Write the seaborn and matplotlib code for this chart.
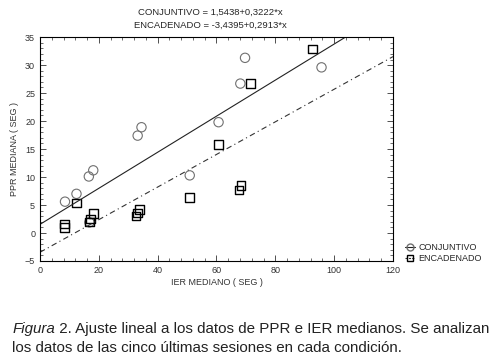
import numpy as np
import pandas as pd
import seaborn as sns
import matplotlib.pyplot as plt
from matplotlib.ticker import AutoMinorLocator, MultipleLocator
from matplotlib.lines import Line2D

# data
conj_x = [8.5, 12.4, 16.6, 18.1, 16.8, 33.2, 34.5, 50.9, 60.7, 68.1, 69.7, 95.7]
conj_y = [5.6, 7.0, 10.1, 11.2, 1.9, 17.4, 18.9, 10.3, 19.8, 26.7, 31.3, 29.6]
enc_x = [8.4, 8.4, 12.4, 16.8, 17.2, 18.1, 32.6, 33.2, 33.8, 50.9, 60.7, 67.6, 68.3, 71.5, 92.6]
enc_y = [1.6, 1.0, 5.4, 2.0, 2.5, 3.5, 3.0, 3.6, 4.2, 6.3, 15.8, 7.7, 8.5, 26.7, 32.9]
# regression coefficients (intercept, slope)
conj_fit = [1.5438, 0.3222]
enc_fit = [-3.4395, 0.2913]

df = pd.DataFrame({
    'x': conj_x + enc_x,
    'y': conj_y + enc_y,
    'grupo': ['CONJUNTIVO'] * len(conj_x) + ['ENCADENADO'] * len(enc_x),
})

sns.set_style("ticks")
plt.rcParams['font.family'] = ['Liberation Sans', 'DejaVu Sans']

fig = plt.figure(figsize=(5, 3.64), dpi=100)
ax = fig.add_axes([0.08, 0.283, 0.706, 0.615])

sns.scatterplot(data=df[df.grupo == 'CONJUNTIVO'], x='x', y='y', marker='o', s=45,
                facecolor='none', edgecolor='#707070', linewidth=0.8, ax=ax, legend=False)
sns.scatterplot(data=df[df.grupo == 'ENCADENADO'], x='x', y='y', marker='s', s=38,
                facecolor='none', edgecolor='black', linewidth=1.0, ax=ax, legend=False)

xx = np.linspace(0, 120, 200)
ax.plot(xx, conj_fit[0] + conj_fit[1] * xx, color='#222222', lw=0.8)
ax.plot(xx, enc_fit[0] + enc_fit[1] * xx, color='#333333', lw=0.8, dashes=(5, 3, 1, 3))

ax.set_xlim(0, 120)
ax.set_ylim(-5, 35)
ax.xaxis.set_major_locator(MultipleLocator(20))
ax.yaxis.set_major_locator(MultipleLocator(5))
ax.xaxis.set_minor_locator(AutoMinorLocator(5))
ax.yaxis.set_minor_locator(AutoMinorLocator(5))
ax.tick_params(which='both', direction='in', top=True, right=True, labelsize=6.5,
               colors='#333333', labelcolor='#333333')
ax.tick_params(which='major', length=4, width=0.6)
ax.tick_params(which='minor', length=2, width=0.5)
for sp in ax.spines.values():
    sp.set_linewidth(0.8)
    sp.set_color('black')

ax.set_xlabel('IER MEDIANO ( SEG )', fontsize=6.5, color='#333333', labelpad=2)
ax.set_ylabel('PPR MEDIANA ( SEG )', fontsize=6.5, color='#333333', labelpad=4)

fig.text(0.42, 0.965, 'CONJUNTIVO = 1,5438+0,3222*x', ha='center', va='center', fontsize=6.8)
fig.text(0.42, 0.93, 'ENCADENADO = -3,4395+0,2913*x', ha='center', va='center', fontsize=6.8)

handles = [
    Line2D([], [], color='#222222', lw=0.8, marker='o', mfc='none', mec='#707070', ms=5),
    Line2D([], [], color='#333333', lw=0.8, dashes=(2, 1), marker='s', mfc='none', mec='black', ms=4),
]
fig.legend(handles, ['CONJUNTIVO', 'ENCADENADO'], loc='center left',
           bbox_to_anchor=(0.8, 0.305), frameon=False, fontsize=6.5,
           handlelength=1.2, handletextpad=0.3, labelspacing=0.2, borderpad=0)

# caption below the chart, "Figura" in italics
cap = dict(fontsize=10.9, color='#222222', va='baseline')
t1 = fig.text(0.025, 0.085, 'Figura', style='italic', **cap)
ax.annotate(' 2. Ajuste lineal a los datos de PPR e IER medianos. Se analizan',
            xy=(1, 0), xycoords=t1, annotation_clip=False,
            ha='left', va='bottom', fontsize=10.9, color='#222222')
fig.text(0.025, 0.033, 'los datos de las cinco últimas sesiones en cada condición.', **cap)

fig.savefig('out.png', dpi=100)
